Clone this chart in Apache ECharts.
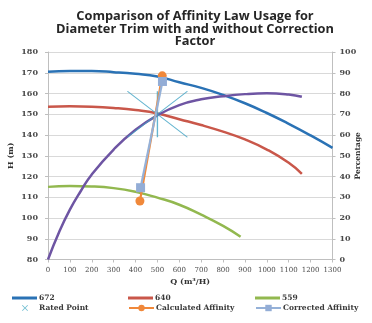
<!DOCTYPE html>
<html>
<head>
<meta charset="utf-8">
<script src="https://cdn.jsdelivr.net/npm/echarts@6/dist/echarts.min.js"></script>
<style>
html,body{margin:0;padding:0;background:#fff;}
#chart{width:372px;height:323px;}
</style>
</head>
<body>
<div id="chart"></div>
<script>
// ---- data ----
const flow672 = [0,100,200,300,400,500,600,700,800,900,1000,1100,1200,1300];
const head672 = [170.5,170.8,170.8,170.3,169.5,168.2,165.4,162.7,159.3,155.3,150.6,145.4,139.8,133.8];

const flow640 = [0,100,200,300,400,500,600,700,800,900,1000,1100,1160];
const head640 = [153.6,153.8,153.6,153.0,152.0,150.4,147.6,144.8,141.6,137.9,133.0,126.6,121.3];

const flow559 = [0,100,200,300,400,500,600,700,800,880];
const head559 = [115.0,115.4,115.2,114.4,112.6,109.8,106.4,101.6,96.2,91.0];

const flowEff = [0,50,100,150,200,300,400,500,600,700,800,900,1000,1100,1160];
const effPct  = [0,13,24,33,41,53,62.5,69.5,74.4,77.2,78.7,79.7,80.1,79.5,78.4];

const ratedFlow = [500];
const ratedHead = [150];

const calcFlow = [420,522];
const calcHead = [108.2,168.5];

const corrFlow = [423,523];
const corrHead = [114.6,165.8];

const zip = (a,b) => a.map((v,i) => [v,b[i]]);

const serif = 'DejaVu Serif';
const labelColor = '#4a4a4a';
const gridColor = '#d9d9d9';
const lineIcon = 'path://M0,0 L25,0 L25,3 L0,3 Z';

const chart = echarts.init(document.getElementById('chart'), null, {renderer:'canvas'});

function legendAt(name, left, top, extra, opts) {
  const item = Object.assign({name: name}, extra || {});
  return Object.assign({
    data: [item],
    left: left, top: top,
    padding: 0,
    itemWidth: 25, itemHeight: 8,
    itemGap: 0,
    textStyle: {fontFamily: serif, fontSize: 7.5, fontWeight: 'bold', color: '#3a3a3a', padding: [0,0,0,-3]}
  }, opts || {});
}

const option = {
  animation: false,
  backgroundColor: '#ffffff',
  title: {
    text: 'Comparison of Affinity Law Usage for\nDiameter Trim with and without Correction\nFactor',
    left: 190, top: 5, textAlign: 'center',
    textStyle: {fontFamily: 'Open Sans', fontWeight: 'bold', fontSize: 12.8, lineHeight: 12.7, color: '#262626'}
  },
  grid: {left: 48, right: 39.5, top: 52, bottom: 63.5, containLabel: false, outerBoundsMode: 'none'},
  legend: [
    legendAt('672', 12, 294, {icon: lineIcon}),
    legendAt('640', 128, 294, {icon: lineIcon}),
    legendAt('559', 255, 294, {icon: lineIcon}),
    legendAt('Rated Point', 22, 304, {icon: 'path://M0,1 L1,0 L5,4 L9,0 L10,1 L6,5 L10,9 L9,10 L5,6 L1,10 L0,9 L4,5 Z', itemStyle: {color: '#4bacc6', borderWidth: 0}},
      {itemWidth: 6, itemHeight: 6, textStyle: {fontFamily: serif, fontSize: 7.5, fontWeight: 'bold', color: '#3a3a3a', padding: [0,0,0,6]}}),
    legendAt('Calculated Affinity', 128, 304),
    legendAt('Corrected Affinity', 255, 304)
  ],
  xAxis: {
    type: 'value', min: 0, max: 1300, interval: 100,
    name: 'Q (m\u00b3/H)', nameLocation: 'middle', nameGap: 18, nameMoveOverlap: false,
    nameTextStyle: {fontFamily: serif, fontSize: 8, fontWeight: 'bold', color: '#333'},
    axisLine: {show: true, lineStyle: {color: '#bfbfbf', width: 1}},
    axisTick: {show: true, length: 3, lineStyle: {color: '#bfbfbf'}},
    axisLabel: {fontFamily: serif, fontSize: 7, color: labelColor, margin: 7, formatter: v => String(v)},
    splitLine: {show: false}
  },
  yAxis: [
    {
      type: 'value', min: 80, max: 180, interval: 10, position: 'left',
      name: 'H (m)', nameLocation: 'middle', nameGap: 33, nameRotate: 90, nameMoveOverlap: false,
      nameTextStyle: {fontFamily: serif, fontSize: 8, fontWeight: 'bold', color: '#333'},
      axisLine: {show: true, lineStyle: {color: '#bfbfbf', width: 1}},
      axisTick: {show: true, length: 3, lineStyle: {color: '#bfbfbf'}},
      axisLabel: {fontFamily: serif, fontSize: 8, fontWeight: 'bold', color: labelColor, margin: 10, formatter: v => String(v)},
      splitLine: {show: true, lineStyle: {color: gridColor, width: 1}}
    },
    {
      type: 'value', min: 0, max: 100, interval: 10, position: 'right',
      name: 'Percentage', nameLocation: 'middle', nameGap: 22, nameRotate: 90, nameMoveOverlap: false,
      nameTextStyle: {fontFamily: serif, fontSize: 7.5, fontWeight: 'bold', color: '#333'},
      axisLine: {show: true, lineStyle: {color: '#bfbfbf', width: 1}},
      axisTick: {show: true, length: 3, lineStyle: {color: '#bfbfbf'}},
      axisLabel: {fontFamily: serif, fontSize: 8, fontWeight: 'bold', color: labelColor, margin: 7, formatter: v => String(v)},
      splitLine: {show: false}
    }
  ],
  series: [
    {name: '672', type: 'line', data: zip(flow672, head672), smooth: true, symbol: 'none',
     lineStyle: {color: '#2a72b5', width: 2.5}, itemStyle: {color: '#2a72b5'}},
    {name: '640', type: 'line', data: zip(flow640, head640), smooth: true, symbol: 'none',
     lineStyle: {color: '#c9574a', width: 2.5}, itemStyle: {color: '#c9574a'}},
    {name: '559', type: 'line', data: zip(flow559, head559), smooth: true, symbol: 'none',
     lineStyle: {color: '#92b84f', width: 2.5}, itemStyle: {color: '#92b84f'}},
    {name: 'Efficiency', type: 'line', yAxisIndex: 1, data: zip(flowEff, effPct), smooth: true, symbol: 'none',
     lineStyle: {color: '#6e55a3', width: 2.5}, itemStyle: {color: '#6e55a3'}},
    {name: 'Rated Point', type: 'scatter', data: zip(ratedFlow, ratedHead),
     symbol: 'path://M0,0 L60,46 M60,0 L0,46 M30,0 L30,46', symbolSize: [60, 46],
     itemStyle: {color: 'rgba(0,0,0,0)', borderColor: '#3fa3c4', borderWidth: 1.2}, z: 4},
    {name: 'Calculated Affinity', type: 'line', data: zip(calcFlow, calcHead),
     symbol: 'circle', symbolSize: 9, showSymbol: true,
     lineStyle: {color: '#f0883a', width: 2.2}, itemStyle: {color: '#f0883a'}, z: 5},
    {name: 'Corrected Affinity', type: 'line', data: zip(corrFlow, corrHead),
     symbol: 'rect', symbolSize: 9, showSymbol: true,
     lineStyle: {color: '#95b1d8', width: 2.2}, itemStyle: {color: '#93add6'}, z: 6}
  ]
};
chart.setOption(option);
</script>
</body>
</html>
